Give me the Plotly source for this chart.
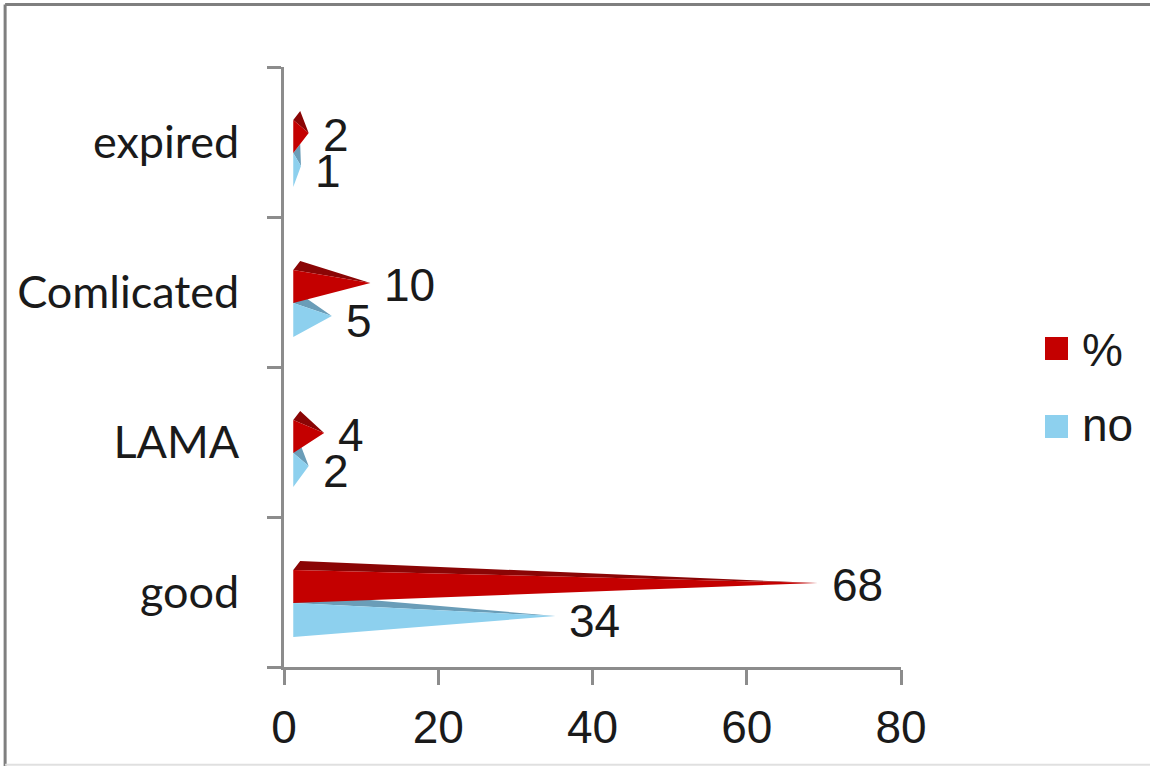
import plotly.graph_objects as go

# Outcome categories (bottom to top) and the two series
categories = ["good", "LAMA", "Comlicated", "expired"]
pct_values = [68, 4, 10, 2]
no_values = [34, 2, 5, 1]
x_ticks = [0, 20, 40, 60, 80]

# Pyramid geometry (in axis units)
BASE = 1.2        # floor offset of the 3D bars
DEPTH_X = 0.9     # horizontal depth of the top facet
RED_TOP, RED_BOT, RED_TIP = 0.147, -0.073, 0.06
BLUE_TOP, BLUE_BOT, BLUE_TIP = -0.073, -0.30, -0.16
FACET_RISE = 0.06

RED = "#C40000"
RED_DARK = "#8A0505"
BLUE = "#8DD0EE"
BLUE_DARK = "#6A9DB8"
AXIS = "#8C8C8C"


def front_faces(values, top, bot, tip):
    xs, ys = [], []
    for i, v in enumerate(values):
        xs += [BASE, BASE + v, BASE, BASE, None]
        ys += [i + top, i + tip, i + bot, i + top, None]
    return xs, ys


def top_facets(values, top, tip):
    xs, ys = [], []
    for i, v in enumerate(values):
        xs += [BASE, BASE + DEPTH_X, BASE + v, BASE, None]
        ys += [i + top, i + top + FACET_RISE, i + tip, i + top, None]
    return xs, ys


fig = go.Figure()

for vals, top, bot, tip, col, dark in [
    (no_values, BLUE_TOP, BLUE_BOT, BLUE_TIP, BLUE, BLUE_DARK),
    (pct_values, RED_TOP, RED_BOT, RED_TIP, RED, RED_DARK),
]:
    fx, fy = top_facets(vals, top, tip)
    fig.add_trace(go.Scatter(x=fx, y=fy, mode="lines", fill="toself",
                             fillcolor=dark, line=dict(width=0, color=dark),
                             hoverinfo="skip", showlegend=False))
    x, y = front_faces(vals, top, bot, tip)
    fig.add_trace(go.Scatter(x=x, y=y, mode="lines", fill="toself",
                             fillcolor=col, line=dict(width=0, color=col),
                             hoverinfo="skip", showlegend=False))

# Value labels at the pyramid tips
label_font = dict(family="Liberation Sans, Arial", size=46, color="#1a1a1a")
for i, v in enumerate(pct_values):
    fig.add_annotation(x=BASE + v, y=i + 0.05, text=str(v), showarrow=False,
                       xanchor="left", yanchor="middle", xshift=12, font=label_font)
for i, v in enumerate(no_values):
    fig.add_annotation(x=BASE + v, y=i - 0.19, text=str(v), showarrow=False,
                       xanchor="left", yanchor="middle", xshift=12, font=label_font)

# Legend drawn as swatches and labels
for (y0, y1, ty, col, name) in [
    (0.5117, 0.55, 0.528, RED, "%"),
    (0.3817, 0.42, 0.403, BLUE, "no"),
]:
    fig.add_shape(type="rect", xref="paper", yref="paper",
                  x0=1.2334, x1=1.2707, y0=y0, y1=y1,
                  fillcolor=col, line=dict(width=0))
    fig.add_annotation(xref="paper", yref="paper", x=1.290, y=ty, text=name,
                       showarrow=False, xanchor="left", yanchor="middle",
                       font=label_font)

# Outer frame of the chart area
fig.add_shape(type="line", xref="paper", yref="paper", x0=-0.452, x1=-0.452,
              y0=-0.165, y1=1.104, line=dict(color="#7F7F7F", width=3))
fig.add_shape(type="line", xref="paper", yref="paper", x0=-0.452, x1=1.5,
              y0=1.104, y1=1.104, line=dict(color="#7F7F7F", width=3))
fig.add_shape(type="line", xref="paper", yref="paper", x0=-0.452, x1=1.5,
              y0=-0.163, y1=-0.163, line=dict(color="#E0E0E0", width=2))

fig.update_layout(
    width=1150, height=766,
    margin=dict(l=284, r=249, t=67, b=99),
    paper_bgcolor="white", plot_bgcolor="white",
    showlegend=False,
    xaxis=dict(range=[0, 80], tickvals=x_ticks, ticks="outside", ticklen=15,
               tickwidth=2.5, tickcolor=AXIS, showline=True, linecolor=AXIS,
               linewidth=2.5, showgrid=False, zeroline=False,
               tickfont=dict(family="Liberation Sans, Arial", size=46, color="#1a1a1a"),
               ticklabelstandoff=3),
    yaxis=dict(range=[-0.5, 3.5], tickvals=[0, 1, 2, 3], ticktext=categories,
               ticks="", showline=True, linecolor=AXIS, linewidth=2.5,
               showgrid=False, zeroline=False,
               minor=dict(tickvals=[-0.5, 0.5, 1.5, 2.5, 3.5], ticks="outside",
                          ticklen=14, tickwidth=2.5, tickcolor=AXIS),
               tickfont=dict(family="Lato", size=45, color="#1a1a1a"),
               ticklabelstandoff=33),
)

fig.write_html("out.html")
